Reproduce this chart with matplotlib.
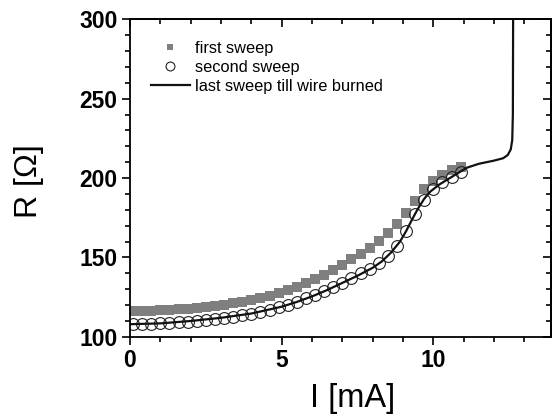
import matplotlib
matplotlib.use('Agg')
import matplotlib.pyplot as plt
from matplotlib.ticker import MultipleLocator, NullFormatter

plt.rcParams['font.family'] = ['Liberation Sans', 'DejaVu Sans']

# first sweep (grey squares)
I_first = [0.1, 0.4, 0.7, 1.0, 1.3, 1.6, 1.9, 2.2, 2.5, 2.8, 3.1, 3.4, 3.7,
           4.0, 4.3, 4.6, 4.9, 5.2, 5.5, 5.8, 6.1, 6.4, 6.7, 7.0, 7.3, 7.6,
           7.9, 8.2, 8.5, 8.8, 9.1, 9.4, 9.7, 10.0, 10.3, 10.6, 10.9]
R_first = [116.5, 116.5, 116.6, 116.8, 117.0, 117.3, 117.7, 118.2, 118.8,
           119.5, 120.3, 121.2, 122.2, 123.3, 124.5, 125.9, 127.4, 129.5,
           131.5, 133.8, 136.3, 139.0, 142.0, 145.3, 148.8, 152.3, 155.8,
           160.5, 165.5, 171.0, 177.8, 185.5, 193.0, 198.0, 202.0, 205.0, 207.0]

# second sweep (open circles)
I_second = I_first
R_second = [108.0, 108.0, 108.2, 108.5, 108.8, 109.2, 109.6, 110.1, 110.7,
            111.3, 112.0, 112.8, 113.7, 114.7, 115.8, 117.0, 118.5, 120.3,
            122.2, 124.3, 126.5, 128.8, 131.5, 134.2, 137.0, 140.0, 143.0,
            146.3, 151.0, 157.5, 166.5, 177.5, 186.5, 193.0, 197.5, 200.5, 204.0]

# last sweep till wire burned (line)
I_last = [0.05, 1.0, 2.0, 3.0, 4.0, 5.0, 5.5, 6.0, 6.5, 7.0, 7.5, 8.0, 8.3,
          8.6, 8.9, 9.1, 9.3, 9.5, 9.7, 9.9, 10.2, 10.5, 10.8, 11.1, 11.5,
          12.0, 12.3, 12.45, 12.55, 12.6, 12.62, 12.63]
R_last = [108.0, 108.5, 110.0, 112.0, 114.7, 119.0, 122.0, 125.5, 129.5,
          134.0, 138.5, 143.5, 147.5, 153.0, 160.0, 166.5, 174.0, 181.0,
          187.0, 191.5, 196.0, 199.5, 203.0, 206.5, 209.0, 211.0, 212.5,
          214.5, 218.0, 224.0, 240.0, 310.0]

fig = plt.figure(figsize=(5.53, 4.19), dpi=100)
ax = fig.add_axes([0.235, 0.196, 0.761, 0.758])

ax.plot(I_first, R_first, linestyle='none', marker='s', markersize=6.5,
        color='#7f7f7f', markeredgewidth=0, label='first sweep')
ax.plot(I_second, R_second, linestyle='none', marker='o', markersize=8.5,
        markerfacecolor='none', markeredgecolor='#222222',
        markeredgewidth=0.8, label='second sweep')
ax.plot(I_last, R_last, color='#111111', lw=1.6,
        label='last sweep till wire burned')

ax.set_xlim(0, 13.87)
ax.set_ylim(100, 300)
ax.xaxis.set_major_locator(MultipleLocator(5))
ax.xaxis.set_minor_locator(MultipleLocator(1))
ax.yaxis.set_major_locator(MultipleLocator(50))
ax.yaxis.set_minor_locator(MultipleLocator(10))

for s in ax.spines.values():
    s.set_linewidth(1.3)
ax.tick_params(which='both', direction='out', width=1.2)
ax.tick_params(which='major', length=6)
ax.tick_params(which='minor', length=3.5)
ax.tick_params(axis='both', which='major', labelsize=16.5, pad=3)
for lab in ax.get_xticklabels() + ax.get_yticklabels():
    lab.set_fontweight('bold')

# inward ticks on top and right, no labels
top = ax.secondary_xaxis('top')
top.xaxis.set_major_locator(MultipleLocator(5))
top.xaxis.set_minor_locator(MultipleLocator(1))
top.xaxis.set_major_formatter(NullFormatter())
top.tick_params(which='both', direction='in', width=1.2)
top.tick_params(which='major', length=6)
top.tick_params(which='minor', length=3.5)
top.spines['top'].set_linewidth(1.3)

right = ax.secondary_yaxis('right')
right.yaxis.set_major_locator(MultipleLocator(50))
right.yaxis.set_minor_locator(MultipleLocator(10))
right.yaxis.set_major_formatter(NullFormatter())
right.tick_params(which='both', direction='in', width=1.2)
right.tick_params(which='major', length=6)
right.tick_params(which='minor', length=3.5)
right.spines['right'].set_linewidth(1.3)

ax.set_xlabel('I [mA]', fontsize=23.5)
ax.set_ylabel('R [Ω]', fontsize=23)
ax.xaxis.set_label_coords(0.53, -0.145)
ax.yaxis.set_label_coords(-0.205, 0.49)

ax.legend(loc='upper left', frameon=False, fontsize=11.8, markerscale=0.75,
          bbox_to_anchor=(0.022, 0.968), handlelength=2.4,
          handletextpad=0.3, labelspacing=0.25, borderaxespad=0.3)

fig.savefig('out.png', dpi=100)
